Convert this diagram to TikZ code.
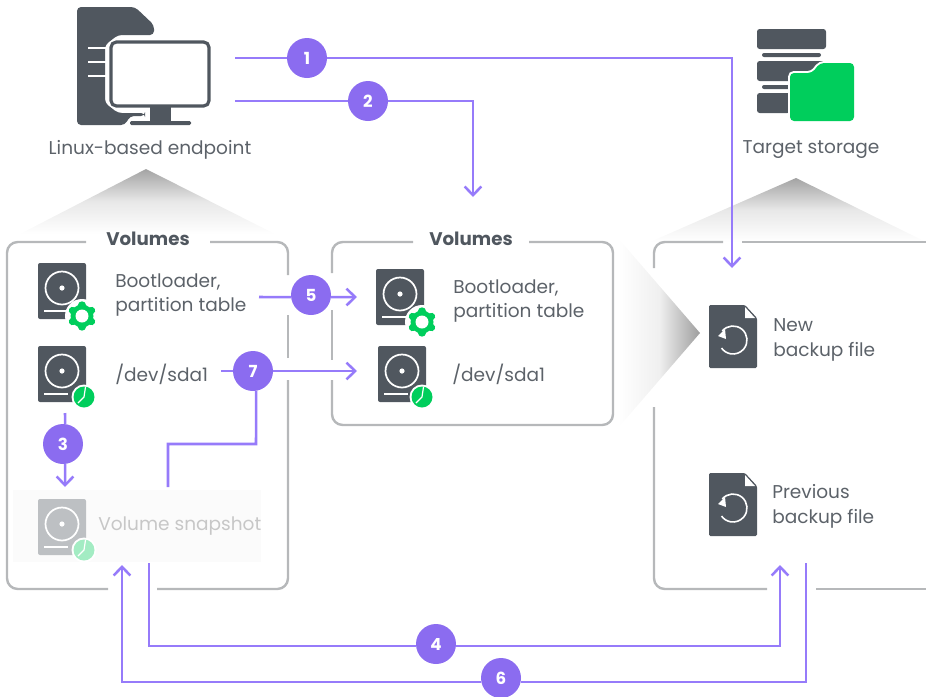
\documentclass[tikz,border=0pt]{standalone}
\usepackage{fontspec}
\setmainfont{Poppins}
\usetikzlibrary{arrows.meta}

\definecolor{slate}{HTML}{50575F}
\definecolor{labelgrey}{HTML}{5C6269}
\definecolor{frame}{HTML}{B6B8BA}
\definecolor{flow}{HTML}{967BFA}
\definecolor{badge}{HTML}{8B6CF0}
\definecolor{leaf}{HTML}{00CE5C}
\definecolor{fadeslate}{HTML}{BDC0C3}
\definecolor{fadeleaf}{HTML}{A3ECC3}

% disk body: left, top, body colour
\newcommand{\diskbody}[3]{
    \begin{scope}[shift={(#1,#2)}]
        \fill[#3,rounded corners=1.5] (0,0) rectangle (48,56);
        \draw[white,line width=1.3pt] (24,25) circle[radius=16.5];
        \fill[white] (24,25) circle[radius=2.6];
        \draw[white,line width=1.3pt] (6,48) -- (30,48);
    \end{scope}
}
% gear badge: centre
\newcommand{\gearbadge}[2]{
    \begin{scope}[shift={(#1,#2)}]
        \fill[white] (0,0) circle[radius=17];
        \draw[gear tooth] (0,-11) -- (0,11);
        \draw[gear tooth] (-9.5,-5.5) -- (9.5,5.5);
        \draw[gear tooth] (-9.5,5.5) -- (9.5,-5.5);
        \fill[leaf] (0,0) circle[radius=11.5];
        \fill[white] (0,0) circle[radius=6.5];
    \end{scope}
}
% clock badge: centre, colour
\newcommand{\clockbadge}[3]{
    \begin{scope}[shift={(#1,#2)}]
        \fill[white] (0,0) circle[radius=12.5];
        \fill[#3] (0,0) circle[radius=10.5];
        \draw[white,line width=.9pt] (1.5,-10) -- (0,0) -- (-6,6);
    \end{scope}
}
% backup file: left, top
\newcommand{\backupfile}[2]{
    \begin{scope}[shift={(#1,#2)}]
        \fill[slate,rounded corners=1] (0,0) -- (36,0) -- (48,13) -- (48,63) -- (0,63) -- cycle;
        \fill[white] (36,2) -- (46,13) -- (36,13) -- cycle;
        \draw[white,line width=1.2pt] (24,35) ++(-140:14) arc[start angle=-140,end angle=145,radius=14];
        \fill[white] (16,24) -- (9,31) -- (17,34) -- cycle;
    \end{scope}
}

\begin{document}
\begin{tikzpicture}[x=.75pt,y=-.75pt,
        box line/.style={frame,line width=1.8pt,rounded corners=8},
        link/.style={flow,line width=1.9pt},
        link arrow/.style={link,-{Straight Barb[length=6.5pt,width=12.5pt,line width=1.9pt]}},
        badge dot/.style={circle,fill=badge,text=white,minimum size=30pt,inner sep=0pt,outer sep=0pt,font=\bfseries\fontsize{12.5}{14}\selectfont},
        gear tooth/.style={leaf,line width=5.5pt,line cap=round},
        caption/.style={text=labelgrey,font=\fontsize{13.9}{15}\selectfont,inner sep=0pt},
        item/.style={text=labelgrey,font=\fontsize{13.9}{18.6}\selectfont,inner sep=0pt,anchor=west,align=left},
        box title/.style={text=slate,font=\bfseries\fontsize{13.7}{15}\selectfont,inner sep=0pt}]

    \useasboundingbox (0,0) rectangle (926,697);

    % fans from the icons to the boxes
    \shade[top color=black!36,bottom color=white,middle color=black!9] (146,169) -- (275,234) -- (20,234) -- cycle;
    \shade[top color=black!36,bottom color=white,middle color=black!9] (796,178) -- (926,242) -- (650,242) -- cycle;
    \shade[left color=white,right color=black!38,middle color=black!6] (618,238) -- (700,333) -- (618,428) -- cycle;

    % snapshot backdrop
    \fill[black!1.5] (13,490) rectangle (261,562);

    % endpoint icon
    \fill[slate,rounded corners=3] (77,7) -- (135,7) -- (154,25) -- (154,35) -- (118,35) -- (105,45) -- (105,103) -- (118,113) -- (145,113) -- (145,116) -- (130,116) -- (125,125) -- (77,125) -- cycle;
    \draw[white,line width=2pt] (88,48) -- (106,48);
    \draw[white,line width=2pt] (88,62) -- (106,62);
    \draw[white,line width=2pt] (88,76) -- (106,76);
    \draw[slate,line width=2.4pt,rounded corners=4] (111,42) rectangle (209,106);
    \fill[slate] (150,107) rectangle (171,123);
    \fill[slate,rounded corners=1] (130,121) rectangle (191,125);

    % storage icon
    \fill[slate,rounded corners=2] (757,29) rectangle (826,49);
    \fill[slate,rounded corners=1.5] (762,53) rectangle (821,57);
    \fill[slate,rounded corners=2] (757,61) rectangle (826,81);
    \fill[slate,rounded corners=1.5] (762,85) rectangle (790,89);
    \fill[slate,rounded corners=2] (757,93) rectangle (790,113);
    \draw[white,line width=3pt,fill=white,rounded corners=3] (790,73) -- (812,73) -- (820,63) -- (854,63) -- (854,121) -- (790,121) -- cycle;
    \fill[leaf,rounded corners=3] (790,73) -- (812,73) -- (820,63) -- (854,63) -- (854,121) -- (790,121) -- cycle;

    \node[caption] (endpoint) at (150,150) {Linux-based endpoint};
    \node[caption] (storage) at (811,150) {Target storage};

    % boxes, broken where the links cross
    \draw[box line] (86,242) -- (7,242) -- (7,589) -- (108,589);
    \draw[box line] (157,589) -- (288,589) -- (288,380);
    \draw[box line] (288,358) -- (288,315);
    \draw[box line] (288,275) -- (288,242) -- (210,242);
    \draw[box line] (413,242) -- (332,242) -- (332,273);
    \draw[box line] (332,310) -- (332,360);
    \draw[box line] (332,380) -- (332,425) -- (613,425) -- (613,242) -- (529,242);
    \draw[box line] (723,242) -- (654,242) -- (654,268);
    \draw[box line] (654,407) -- (654,589) -- (767,589);
    \draw[box line] (816,589) -- (926,589);
    \draw[box line] (742,242) -- (926,242);

    \node[box title] (volumesa) at (148,239) {Volumes};
    \node[box title] (volumesb) at (471,239) {Volumes};

    % disks
    \diskbody{38}{263}{slate}
    \gearbadge{82}{316}
    \diskbody{38}{346}{slate}
    \clockbadge{84}{397}{leaf}
    \diskbody{38}{499}{fadeslate}
    \clockbadge{84}{550}{fadeleaf}
    \diskbody{376}{269}{slate}
    \gearbadge{422}{322}
    \diskbody{378}{346}{slate}
    \clockbadge{422}{397}{leaf}

    \backupfile{709}{305}
    \backupfile{709}{473}

    \node[item] (bootsrc) at (115,295) {Bootloader,\\partition table};
    \node[item] (sdasrc) at (115,374) {/dev/sda1};
    \node[item,text=black!22] (snapshot) at (98,526) {Volume snapshot};
    \node[item] (bootdst) at (453,301) {Bootloader,\\partition table};
    \node[item] (sdadst) at (452,374) {/dev/sda1};
    \node[item] (newfile) at (773,340) {New\\backup file};
    \node[item] (oldfile) at (772,506) {Previous\\backup file};

    % step badges
    \node[badge dot] (one) at (307,58) {1};
    \node[badge dot] (two) at (368,101) {2};
    \node[badge dot] (three) at (63,444) {3};
    \node[badge dot] (four) at (436,644) {4};
    \node[badge dot] (five) at (311,295) {5};
    \node[badge dot] (six) at (501,678) {6};
    \node[badge dot] (seven) at (253,371) {7};

    % link ends
    \coordinate (onestart) at (235,58);
    \coordinate (oneend) at (732,268);
    \coordinate (twostart) at (235,101);
    \coordinate (twoend) at (473,197);
    \coordinate (threestart) at (65,413);
    \coordinate (threeend) at (65,487);
    \coordinate (fourstart) at (149,563);
    \coordinate (fourend) at (780,565);
    \coordinate (fivestart) at (259,297);
    \coordinate (fiveend) at (357,297);
    \coordinate (sixstart) at (806,563);
    \coordinate (sixend) at (122,565);
    \coordinate (sevenstart) at (221,371);
    \coordinate (sevenend) at (357,371);
    \coordinate (snapstart) at (168,487);
    \coordinate (snapturn) at (256,444);

    \draw[link] (onestart) -- (one);
    \draw[link arrow] (one) -| (oneend);
    \draw[link] (twostart) -- (two);
    \draw[link arrow] (two) -| (twoend);
    \draw[link] (threestart) -- (three.84);
    \draw[link arrow] (three.-84) -- (threeend);
    \draw[link] (fourstart) |- (four.186);
    \draw[link arrow] (four.-6) -| (fourend);
    \draw[link] (fivestart) -- (five.186);
    \draw[link arrow] (five.-6) -- (fiveend);
    \draw[link] (sixstart) |- (six.-11);
    \draw[link arrow] (six.191) -| (sixend);
    \draw[link] (sevenstart) -- (seven);
    \draw[link arrow] (seven) -- (sevenend);
    \draw[link] (snapstart) |- (snapturn) -- (seven.-81);
\end{tikzpicture}
\end{document}
